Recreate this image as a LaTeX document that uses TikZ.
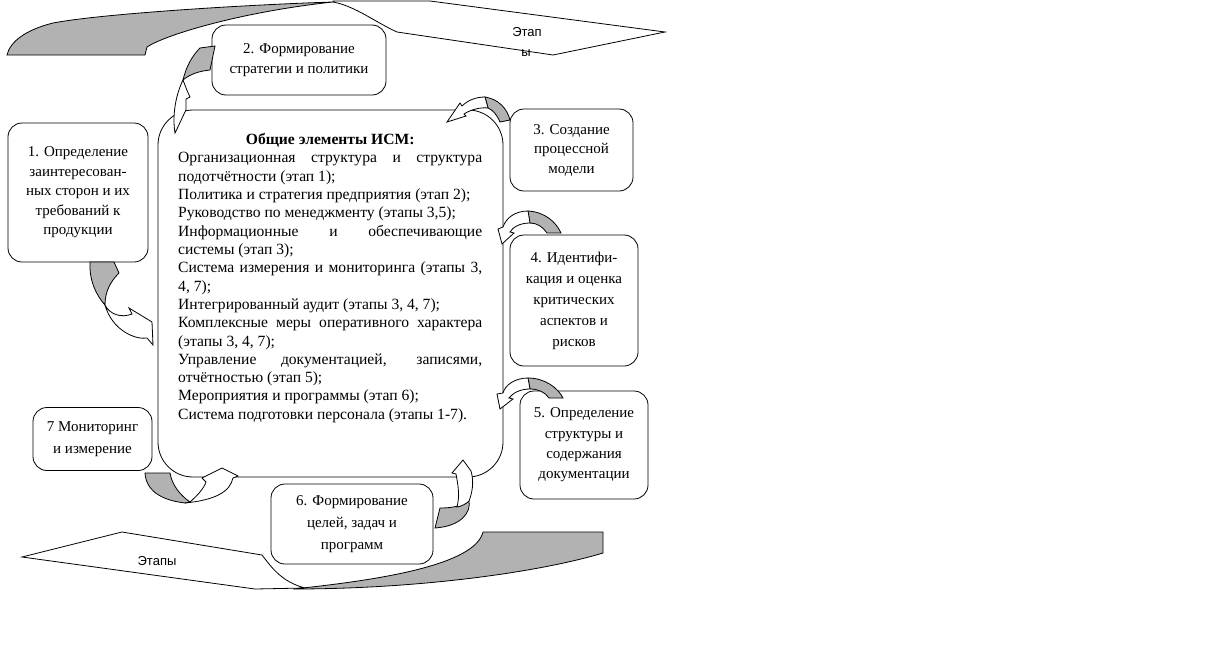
\documentclass[tikz,border=0pt]{standalone}
\usepackage{fontspec}
\setmainfont{Liberation Serif}
\newfontfamily\bannerfont{Liberation Sans}
\usepackage{tikz}
\usetikzlibrary{positioning}
\definecolor{backgrey}{RGB}{178,178,178}
\newcommand{\jline}[1]{\makebox[304pt][s]{#1}}

\begin{document}
\begin{tikzpicture}[x=1pt, y=-1pt,
  every node/.style = {inner sep=0pt, align=center},
  stagebox/.style = {draw, fill=white, rounded corners=14pt, line width=0.8pt,
    font=\fontsize{15}{19.5}\selectfont},
  backside/.style = {draw, fill=backgrey, line width=0.8pt},
  frontside/.style = {draw, fill=white, line width=0.8pt},
  bannertext/.style = {font=\bannerfont\fontsize{13}{15}\selectfont}]
  \useasboundingbox (0,0) rectangle (1206,648);

  % banners
  \draw[backside] (7,55) -- (145,55) -- (147,47) .. controls (165,35) and (240,12) .. (333,2)
    .. controls (240,5) and (100,14) .. (53,23) .. controls (25,30) and (10,42) .. (7,55) -- cycle;
  \draw[frontside] (333,1) -- (430,1) -- (665,32) -- (553,55) -- (397,32)
    .. controls (375,22) and (355,6) .. (333,2) -- cycle;
  \draw[frontside] (22,557) -- (122,532) -- (262,555) .. controls (272,568) and (282,582) .. (305,588)
    -- (255,589) -- cycle;
  \draw[backside] (483,532) -- (603,532) -- (603,553) .. controls (540,572) and (420,589) .. (293,589)
    .. controls (380,580) and (475,565) .. (483,532) -- cycle;
  \node[bannertext] (topstage) at (527,32) {Этап};
  \node[bannertext] (topstagetail) at (526,53) {ы};
  \node[bannertext] (lowstage) at (157,561) {Этапы};

  % common elements
  \draw[line width=0.8pt, rounded corners=35pt] (158,110) rectangle (503,477);
  \node[anchor=north west, align=left, font=\fontsize{15.6}{18.33}\selectfont] (core) at (178,133) {%
    \makebox[304pt]{\bfseries Общие элементы ИСМ:}\\
    \jline{Организационная структура и структура}\\
    подотчётности (этап 1);\\
    Политика и стратегия предприятия (этап 2);\\
    Руководство по менеджменту (этапы 3,5);\\
    \jline{Информационные и обеспечивающие}\\
    системы (этап 3);\\
    \jline{Система измерения и мониторинга (этапы 3,}\\
    4, 7);\\
    Интегрированный аудит (этапы 3, 4, 7);\\
    \jline{Комплексные меры оперативного характера}\\
    (этапы 3, 4, 7);\\
    \jline{Управление документацией, записями,}\\
    отчётностью (этап 5);\\
    Мероприятия и программы (этап 6);\\
    Система подготовки персонала (этапы 1-7).};

  % stages
  \node[stagebox, minimum width=140, minimum height=139] (stage1) at (78,192.5)
    {1. Определение\\заинтересован-\\ных сторон и их\\требований к\\продукции};
  \node[stagebox, minimum width=174, minimum height=70] (stage2) at (299,60)
    {2. Формирование\\стратегии и политики};
  \node[stagebox, minimum width=123, minimum height=82] (stage3) at (571.5,150)
    {3. Создание\\процессной\\модели};
  \node[stagebox, minimum width=128, minimum height=131, font=\fontsize{15}{21}\selectfont] (stage4) at (574,300.5)
    {4. Идентифи-\\кация и оценка\\критических\\аспектов и\\рисков};
  \node[stagebox, minimum width=128, minimum height=108, font=\fontsize{15}{20.3}\selectfont] (stage5) at (584,445)
    {5. Определение\\структуры и\\содержания\\документации};
  \node[stagebox, minimum width=162, minimum height=80, font=\fontsize{15}{22}\selectfont] (stage6) at (352,524)
    {6. Формирование\\целей, задач и\\программ};
  \node[stagebox, minimum width=119, minimum height=63, font=\fontsize{15}{22}\selectfont] (stage7) at (92.5,439)
    {7 Мониторинг\\и измерение};

  % curled arrows
  \draw[backside] (90,262) -- (114,262) -- (119,273) .. controls (110,282) and (105,292) .. (105,305)
    .. controls (96,295) and (89,280) .. (90,262) -- cycle;
  \draw[frontside] (105,305) .. controls (110,315) and (122,318) .. (132,314) -- (129,308) -- (152,322)
    -- (153,345) -- (147,338) .. controls (135,340) and (112,330) .. (105,305) -- cycle;

  \draw[backside] (200,48) -- (215,46) -- (210,70) .. controls (200,71) and (190,74) .. (183,80)
    .. controls (186,67) and (192,56) .. (200,48) -- cycle;
  \draw[frontside] (183,80) .. controls (186,88) and (188,93) .. (190,97) -- (186,99) -- (186,110)
    .. controls (182,118) and (179,125) .. (175,133) .. controls (172,115) and (176,94) .. (183,80) -- cycle;

  \draw[backside] (485,97) .. controls (498,99) and (507,108) .. (510,120) -- (500,122)
    .. controls (497,115) and (493,110) .. (488,108) -- cycle;
  \draw[frontside] (485,97) .. controls (475,97) and (467,101) .. (462,106) -- (460,103) -- (447,122)
    -- (466,116) -- (464,114) .. controls (470,110) and (480,107) .. (488,108) -- cycle;

  \draw[backside] (528,211) .. controls (545,212) and (556,222) .. (561,233) -- (547,233)
    .. controls (543,227) and (537,223) .. (530,223) -- cycle;
  \draw[frontside] (528,211) .. controls (515,211) and (506,218) .. (503,227) -- (498,229) -- (502,244)
    -- (514,233) -- (510,232) .. controls (513,227) and (520,223) .. (530,223) -- cycle;

  \draw[backside] (528,378) .. controls (545,378) and (558,388) .. (563,398) -- (549,398)
    .. controls (545,392) and (538,389) .. (530,389) -- cycle;
  \draw[frontside] (528,378) .. controls (515,378) and (505,385) .. (503,393) -- (497,394) -- (500,409)
    -- (513,399) -- (509,398) .. controls (513,393) and (520,389) .. (530,389) -- cycle;

  \draw[backside] (440,508) .. controls (452,508) and (462,506) .. (469,501)
    .. controls (471,512) and (462,526) .. (435,528) -- cycle;
  \draw[frontside] (469,501) .. controls (474,488) and (473,478) .. (471,471) -- (463,460) -- (452,473)
    -- (456,474) .. controls (458,485) and (460,495) .. (457,507) .. controls (462,506) and (466,504) .. (469,501) -- cycle;

  \draw[backside] (145,473) -- (170,473) .. controls (172,485) and (180,495) .. (190,502) -- (185,503)
    .. controls (160,500) and (146,490) .. (145,473) -- cycle;
  \draw[frontside] (190,502) .. controls (198,495) and (204,488) .. (206,482) -- (202,478) -- (222,468)
    -- (238,476) -- (233,478) .. controls (230,492) and (215,500) .. (185,503) -- cycle;
\end{tikzpicture}
\end{document}
